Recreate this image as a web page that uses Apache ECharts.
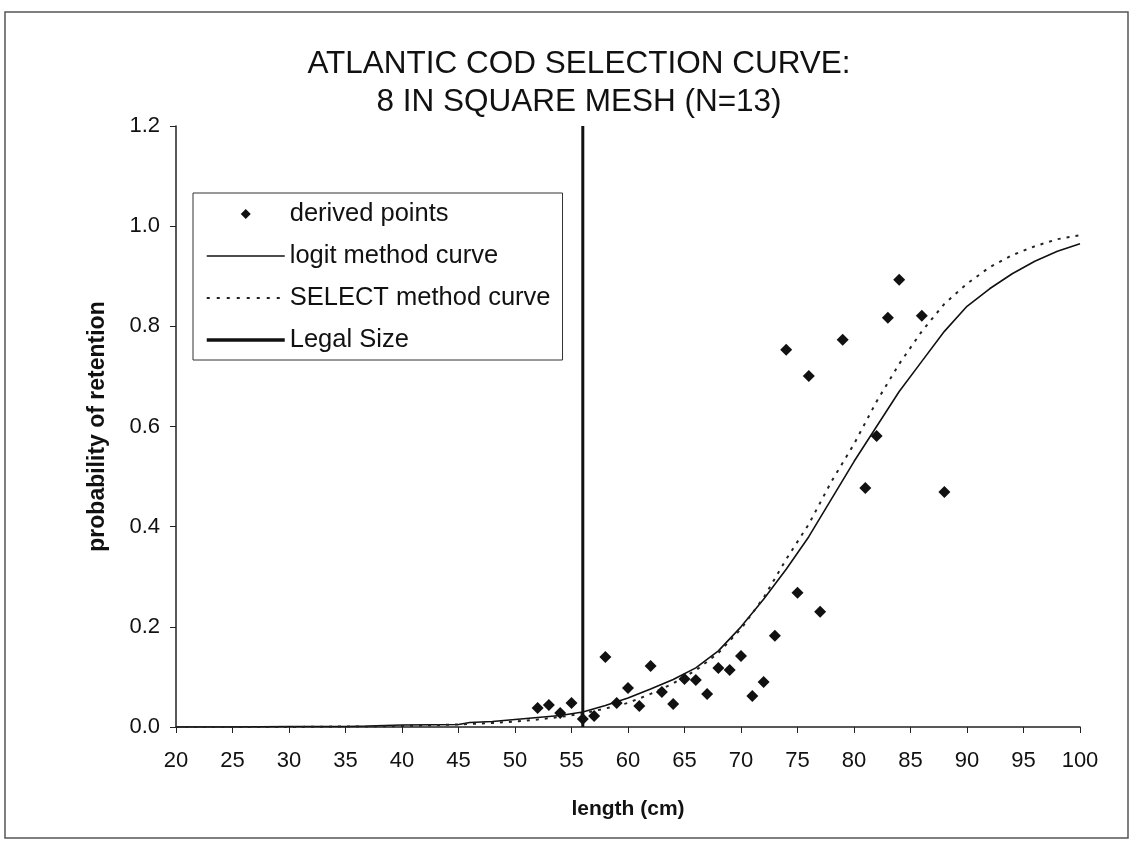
<!DOCTYPE html>
<html><head><meta charset="utf-8">
<script src="https://cdn.jsdelivr.net/npm/echarts@6/dist/echarts.min.js"></script>
<style>html,body{margin:0;padding:0;background:#fff}#c{width:1132px;height:842px}</style>
</head><body><div id="c"></div>
<script>
const titleLines = ['ATLANTIC COD SELECTION CURVE:', '8 IN SQUARE MESH (N=13)'];
const xAxisName = 'length (cm)';
const yAxisName = 'probability of retention';
const seriesNames = ['derived points', 'logit method curve', 'SELECT method curve', 'Legal Size'];

const pointLengths   = [52, 53, 54, 55, 56, 57, 58, 59, 60, 61, 62, 63, 64, 65, 66, 67, 68, 69, 70, 71, 72, 73, 74, 75, 76, 77, 79, 81, 82, 83, 84, 86, 88];
const pointRetention = [0.038, 0.044, 0.028, 0.048, 0.016, 0.022, 0.140, 0.048, 0.078, 0.042, 0.122, 0.070, 0.046, 0.096, 0.094, 0.066, 0.118, 0.114, 0.142, 0.062, 0.090, 0.182, 0.753, 0.268, 0.701, 0.230, 0.773, 0.477, 0.581, 0.817, 0.893, 0.821, 0.469];

const curveLengths = [20, 25, 30, 35, 37, 40, 45, 46, 48, 50, 52, 54, 56, 58, 60, 62, 64, 66, 68, 70, 72, 74, 76, 78, 80, 82, 84, 86, 88, 90, 92, 94, 96, 98, 100];
const logitCurve   = [0.000, 0.000, 0.001, 0.001, 0.002, 0.004, 0.005, 0.009, 0.011, 0.015, 0.019, 0.023, 0.030, 0.043, 0.058, 0.076, 0.095, 0.118, 0.152, 0.200, 0.255, 0.315, 0.380, 0.455, 0.530, 0.600, 0.670, 0.730, 0.790, 0.840, 0.875, 0.905, 0.930, 0.950, 0.965];
const selectCurve  = [0.000, 0.000, 0.000, 0.001, 0.001, 0.002, 0.005, 0.006, 0.008, 0.011, 0.015, 0.020, 0.027, 0.037, 0.048, 0.066, 0.087, 0.113, 0.148, 0.196, 0.258, 0.335, 0.405, 0.490, 0.565, 0.650, 0.725, 0.790, 0.845, 0.885, 0.918, 0.942, 0.960, 0.974, 0.982];

const legalSize = 56;
const legalSpan = [0, 1.2];

const xMin = 20, xMax = 100, xStep = 5;
const yMin = 0, yMax = 1.2, yStep = 0.2;

const FONT = 'Liberation Sans, Arial, sans-serif';
const NONE = 'rgba(0,0,0,0)';
const zip = (a, b) => a.map((v, i) => [v, b[i]]);

const chart = echarts.init(document.getElementById('c'), null, {renderer: 'canvas'});
chart.setOption({
  backgroundColor: '#fff',
  animation: false,
  title: {
    text: titleLines.join('\n'),
    left: 574, top: 40, textAlign: 'center',
    textStyle: {fontFamily: FONT, fontSize: 31.5, fontWeight: 'normal', color: '#111', lineHeight: 38}
  },
  graphic: [{
    type: 'rect', z: -1, silent: true,
    shape: {x: 5, y: 12, width: 1123, height: 826},
    style: {fill: 'none', stroke: '#555', lineWidth: 1.5}
  }],
  legend: {
    orient: 'vertical', left: 193, top: 193,
    padding: [8, 12, 7, 12],
    itemWidth: 78, itemHeight: 20, itemGap: 16,
    borderColor: '#333', borderWidth: 1, backgroundColor: '#fff',
    textStyle: {fontFamily: FONT, fontSize: 25.5, color: '#111', lineHeight: 26},
    data: [
      {name: seriesNames[0], icon: 'path://M0,0M78,20M39,5L44,10L39,15L34,10Z'},
      {name: seriesNames[1], lineStyle: {color: '#111', width: 1.6, type: 'solid'}},
      {name: seriesNames[2], lineStyle: {color: '#222', width: 2, type: [3, 7]}},
      {name: seriesNames[3], lineStyle: {color: '#111', width: 3.5, type: 'solid'}}
    ]
  },
  grid: {left: 176, right: 52, top: 126, bottom: 115, containLabel: false},
  xAxis: {
    type: 'value', min: xMin, max: xMax, interval: xStep,
    name: xAxisName, nameLocation: 'middle', nameGap: 72,
    nameTextStyle: {fontFamily: FONT, fontSize: 21, fontWeight: 'bold', color: '#111'},
    axisLine: {onZero: false, lineStyle: {color: '#222', width: 1.5}},
    axisTick: {inside: false, length: 6, lineStyle: {color: '#222'}},
    axisLabel: {margin: 23, fontFamily: FONT, fontSize: 22, color: '#111'},
    splitLine: {show: false}
  },
  yAxis: {
    type: 'value', min: yMin, max: yMax, interval: yStep,
    name: yAxisName, nameLocation: 'middle', nameGap: 67, nameRotate: 90,
    nameTextStyle: {fontFamily: FONT, fontSize: 23, fontWeight: 'bold', color: '#111'},
    axisLine: {show: true, lineStyle: {color: '#222', width: 1.5}},
    axisTick: {show: true, inside: false, length: 6, lineStyle: {color: '#222'}},
    axisLabel: {margin: 16, fontFamily: FONT, fontSize: 22, color: '#111', formatter: v => v.toFixed(1)},
    splitLine: {show: false}
  },
  series: [
    {
      name: seriesNames[1], type: 'line', symbol: 'none', z: 3,
      lineStyle: {color: '#111', width: 1.6},
      itemStyle: {color: NONE},
      data: zip(curveLengths, logitCurve)
    },
    {
      name: seriesNames[2], type: 'line', symbol: 'none', z: 3,
      lineStyle: {color: '#222', width: 2, type: [3, 6]},
      itemStyle: {color: NONE},
      data: zip(curveLengths, selectCurve)
    },
    {
      name: seriesNames[3], type: 'line', symbol: 'none', z: 4,
      lineStyle: {color: '#111', width: 3},
      itemStyle: {color: NONE},
      data: legalSpan.map(v => [legalSize, v])
    },
    {
      name: seriesNames[0], type: 'scatter', symbol: 'diamond', symbolSize: 12, z: 5,
      itemStyle: {color: '#111', opacity: 1},
      data: zip(pointLengths, pointRetention)
    }
  ]
});
</script>
</body></html>
